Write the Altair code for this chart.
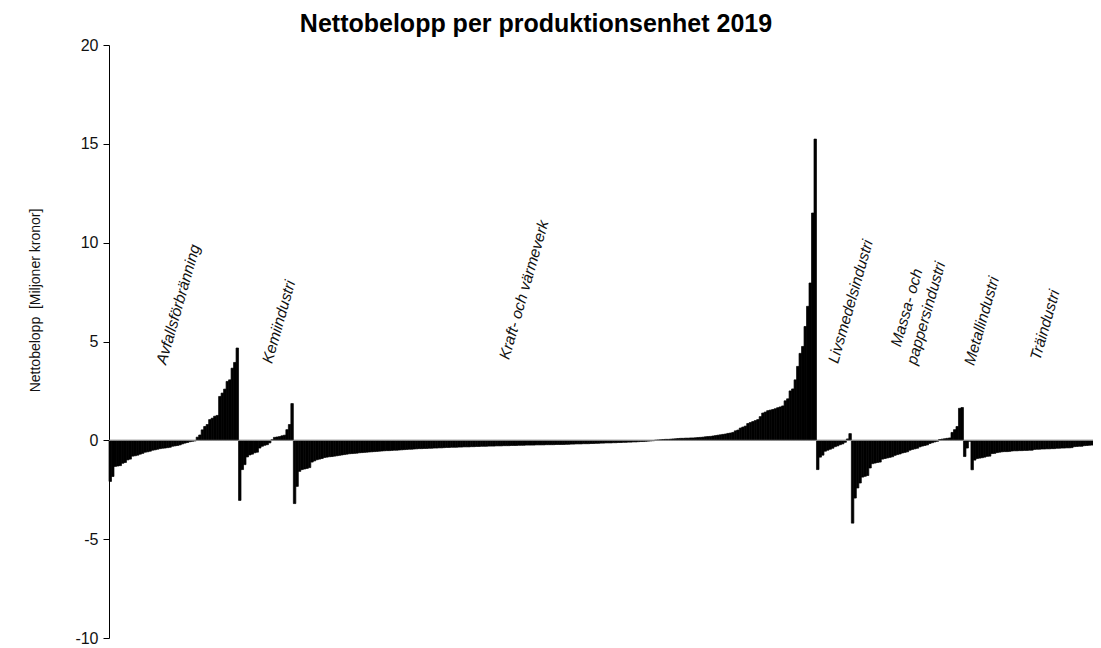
import altair as alt
import pandas as pd

# ---- data: net amount per production unit (million SEK) ----
group_names = [
    "Avfallsförbränning", "Kemiindustri", "Kraft- och värmeverk",
    "Livsmedelsindustri", "Massa- och pappersindustri", "Metallindustri", "Träindustri",
]

avfall = [-2.08, -1.83, -1.32, -1.30, -1.28, -1.16, -1.12, -0.99, -0.95, -0.80, -0.78, -0.75,
          -0.70, -0.66, -0.60, -0.58, -0.55, -0.50, -0.48, -0.45, -0.42, -0.40, -0.39, -0.37,
          -0.35, -0.30, -0.28, -0.26, -0.23, -0.18, -0.14, -0.11, -0.07, -0.05, -0.03, 0.16,
          0.27, 0.53, 0.70, 0.80, 1.05, 1.12, 1.22, 1.26, 2.22, 2.39, 2.59, 2.98, 3.06, 3.65,
          3.94, 4.67]

kemi = [-3.04, -1.48, -1.23, -0.84, -0.74, -0.70, -0.63, -0.60, -0.39, -0.30, -0.25, -0.22,
        -0.13, 0.03, 0.15, 0.17, 0.19, 0.23, 0.26, 0.54, 0.80, 1.86]

kraft = [-3.20, -2.33, -1.57, -1.48, -1.45, -1.42, -1.38, -1.10, -1.04, -0.98, -0.95, -0.92,
         -0.87, -0.85, -0.83, -0.82, -0.80, -0.78, -0.76, -0.74, -0.72, -0.70,
         -0.68, -0.67, -0.66, -0.65, -0.63, -0.62, -0.61,
         -0.60, -0.59, -0.58, -0.57, -0.56, -0.55, -0.54,
         -0.53, -0.52, -0.52, -0.51, -0.50, -0.50, -0.49, -0.48,
         -0.47, -0.46, -0.45, -0.45, -0.44, -0.43, -0.42, -0.42,
         -0.41, -0.41, -0.40, -0.40, -0.39, -0.39, -0.38, -0.38, -0.37,
         -0.36, -0.36, -0.35, -0.35, -0.35, -0.34, -0.34, -0.33, -0.33, -0.33, -0.32, -0.32,
         -0.31, -0.31, -0.30,
         -0.30, -0.30, -0.29, -0.29, -0.29, -0.28, -0.28, -0.28, -0.27, -0.27, -0.27, -0.26,
         -0.26, -0.26, -0.25, -0.25,
         -0.25, -0.24, -0.24, -0.24, -0.24, -0.23, -0.23, -0.23, -0.23, -0.22, -0.22, -0.22,
         -0.22, -0.21, -0.21, -0.21, -0.21, -0.20, -0.20,
         -0.19, -0.19, -0.18, -0.18, -0.18, -0.17, -0.17, -0.17, -0.16, -0.16, -0.15, -0.15,
         -0.14, -0.14, -0.13, -0.13, -0.13, -0.12, -0.12, -0.11, -0.11, -0.10, -0.10, -0.09,
         -0.09, -0.08, -0.08, -0.07, -0.06, -0.06, -0.05, -0.04, -0.03, -0.02,
         0.01, 0.02, 0.03, 0.04, 0.05, 0.05, 0.06, 0.07, 0.08, 0.09,
         0.10, 0.10, 0.11, 0.11, 0.12, 0.12, 0.13, 0.14,
         0.15, 0.16, 0.18, 0.19, 0.20, 0.22, 0.24, 0.26, 0.28, 0.30, 0.32, 0.35, 0.37, 0.40,
         0.48, 0.52, 0.62, 0.67, 0.72, 0.85, 0.90, 0.95, 1.00, 1.05, 1.20, 1.38, 1.43,
         1.50, 1.53, 1.56, 1.60, 1.65, 1.69, 1.74, 2.00, 2.10, 2.50, 2.60, 3.06, 3.74,
         4.40, 4.75, 5.76, 6.78, 7.96, 11.50, 15.24]

livsmedel = [-1.48, -0.85, -0.75, -0.55, -0.50, -0.45, -0.40, -0.32, -0.28, -0.22, -0.18,
             -0.10, 0.07, 0.34]

massa = [-4.19, -2.92, -2.41, -2.16, -1.86, -1.82, -1.78, -1.40, -1.18, -1.15, -1.12, -1.10,
         -0.95, -0.92, -0.89, -0.86, -0.83, -0.76, -0.72, -0.69, -0.64, -0.61, -0.58, -0.50,
         -0.46, -0.43, -0.40, -0.33, -0.29, -0.26, -0.23, -0.16, -0.12, -0.08, -0.05]

metall = [0.04, 0.06, 0.08, 0.10, 0.12, 0.40, 0.54, 0.70, 1.62, 1.66, -0.82, -0.39, -0.05]

tra = [-1.49, -1.00, -0.92, -0.90, -0.88, -0.85, -0.81, -0.80, -0.67, -0.66, -0.62, -0.60,
       -0.58, -0.57, -0.57, -0.56, -0.54, -0.53, -0.53, -0.52, -0.52, -0.51, -0.51, -0.50,
       -0.50, -0.46, -0.45, -0.45, -0.44, -0.44, -0.43, -0.43, -0.42, -0.42, -0.40, -0.40,
       -0.39, -0.39, -0.38, -0.38, -0.37, -0.32, -0.31, -0.30, -0.30, -0.27, -0.26, -0.25,
       -0.24]

series = [avfall, kemi, kraft, livsmedel, massa, metall, tra]

# group label texts and where they sit (bar index, value)
label_texts = ["Avfallsförbränning", "Kemiindustri", "Kraft- och värmeverk",
               "Livsmedelsindustri", "Massa- och\npappersindustri", "Metallindustri", "Träindustri"]
label_idx = [22.9, 65.4, 160.6, 292.6, 322.2, 347.2, 373.7]
label_val = [3.80, 3.85, 4.05, 3.85, 6.64, 3.75, 4.01]
label_align = ["left", "left", "left", "left", "center", "left", "left"]

y_ticks = [-10, -5, 0, 5, 10, 15, 20]

rows = []
i = 0
for g, vals in zip(group_names, series):
    for v in vals:
        rows.append({"i": i, "i1": i + 1, "grupp": g, "belopp": v})
        i += 1
N = i
df = pd.DataFrame(rows)

lab = pd.DataFrame({"text": label_texts, "idx": label_idx, "val": label_val, "al": label_align})

xscale = alt.Scale(domain=[0, N], nice=False, zero=False)
yscale = alt.Scale(domain=[-10, 20], nice=False)

bars = alt.Chart(df).mark_rect(color="black", stroke="black", strokeWidth=0.7).encode(
    x=alt.X("i:Q", scale=xscale, axis=None),
    x2="i1:Q",
    y=alt.Y("belopp:Q", scale=yscale,
            axis=alt.Axis(values=y_ticks, title="Nettobelopp\u00a0 [Miljoner kronor]",
                          labelExpr="'' + datum.value",
                          grid=False, domainColor="black", tickColor="black", tickSize=6,
                          labelFont="Arial", labelFontSize=16, labelColor="#111",
                          labelPadding=5, titleFont="Arial", titleFontSize=14,
                          titleFontWeight="normal", titleColor="#111",
                          titleX=-67, titleY=255, titleAngle=270, titleBaseline="bottom")),
    y2=alt.datum(0),
)

zero_line = alt.Chart(pd.DataFrame({"z": [0], "a": [0], "b": [N]})).mark_rule(
    color="#9a9a9a", strokeWidth=1).encode(
    y=alt.Y("z:Q", scale=yscale), x=alt.X("a:Q", scale=xscale), x2="b:Q")

left_labels = alt.Chart(lab[lab.al == "left"]).mark_text(
    align="left", baseline="alphabetic", angle=286, font="Arial", fontStyle="italic",
    fontSize=15.5, color="#111", lineBreak="\n").encode(
    x=alt.X("idx:Q", scale=xscale), y=alt.Y("val:Q", scale=yscale), text="text:N")

center_labels = alt.Chart(lab[lab.al == "center"]).mark_text(
    align="center", baseline="alphabetic", angle=286, font="Arial", fontStyle="italic",
    fontSize=15.5, color="#111", lineBreak="\n", lineHeight=20).encode(
    x=alt.X("idx:Q", scale=xscale), y=alt.Y("val:Q", scale=yscale), text="text:N")

chart = alt.layer(bars, zero_line, left_labels, center_labels).properties(
    width=984, height=593,
    title=alt.TitleParams("Nettobelopp per produktionsenhet 2019", font="Arial", fontSize=25,
                          fontWeight="bold", color="black", anchor="middle", dx=-65,
                          offset=0),
    autosize=alt.AutoSizeParams(type="none"),
    padding={"left": 101, "top": 37, "right": 0, "bottom": 8},
).configure_view(stroke=None)

chart.save("out.html", embed_options={"renderer": "svg", "actions": False})
